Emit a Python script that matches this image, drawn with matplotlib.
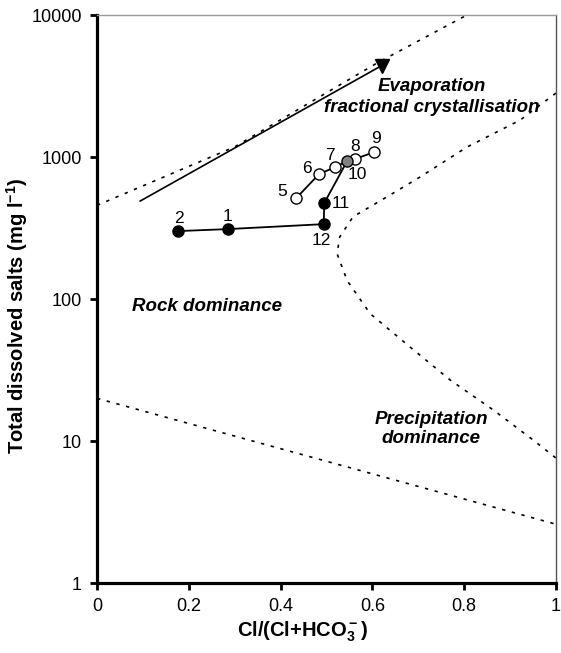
import numpy as np
import matplotlib
matplotlib.use("Agg")
import matplotlib.pyplot as plt

plt.rcParams['font.family'] = ['Liberation Sans', 'DejaVu Sans']
plt.rcParams['mathtext.fontset'] = 'custom'
plt.rcParams['mathtext.bf'] = 'Liberation Sans:bold'
plt.rcParams['mathtext.rm'] = 'Liberation Sans'
plt.rcParams['mathtext.default'] = 'bf'

# samples
labels = ["1", "2", "5", "6", "7", "8", "9", "10", "11", "12"]
cl_ratio = [0.285, 0.176, 0.434, 0.484, 0.519, 0.562, 0.604, 0.545, 0.495, 0.494]
tds = [311, 301, 514, 759, 850, 968, 1084, 937, 474, 337]
fills = ["black", "black", "white", "white", "white", "white", "white", "grey", "black", "black"]

# connecting paths (sample labels)
path_a = ["2", "1", "12", "11", "10", "8", "9"]
path_b = ["5", "6", "7", "10"]

# Gibbs boundaries
upper_x = [0.0, 0.3, 0.61, 0.806]
upper_y = [457, 1180, 4590, 10000]
right_x = [1.0, 0.922, 0.806, 0.704, 0.632, 0.558, 0.529, 0.523, 0.545, 0.595, 0.682, 0.769, 0.863, 0.95, 1.0]
right_y = [2820, 1820, 1175, 724, 525, 380, 275, 209, 135, 79, 46, 27, 16.6, 10.2, 7.6]
lower_x = [0.0, 1.0]
lower_y = [20, 2.6]

# evaporation arrow
arrow_x = [0.094, 0.62]
arrow_y = [490, 4400]

# label offsets in points
offsets = {"1": (0, 9), "2": (1, 9), "5": (-10, 5), "6": (-9, 4), "7": (-4, 8),
           "8": (0, 9), "9": (1, 10), "10": (7, -10), "11": (5, 0), "12": (-2, -12)}

fig = plt.figure(figsize=(5.61, 6.53), dpi=100)
ax = fig.add_axes([0.173, 0.107, 0.818, 0.870])

lookup = dict(zip(labels, zip(cl_ratio, tds)))
for path in (path_a, path_b):
    ax.plot([lookup[p][0] for p in path], [lookup[p][1] for p in path], color="black", lw=1.3, zorder=2)

for lab, x, y, f in zip(labels, cl_ratio, tds, fills):
    ax.plot(x, y, 'o', ms=8, mfc=f, mec="black", mew=1.0, zorder=3)
    ax.annotate(lab, (x, y), xytext=offsets[lab], textcoords="offset points",
                ha="left" if lab == "11" else "center", va="center", fontsize=12.5)

dash = (0, (2, 4))
ax.plot(upper_x, upper_y, color="black", lw=1.2, linestyle=dash)
ax.plot(right_x, right_y, color="black", lw=1.2, linestyle=dash)
ax.plot(lower_x, lower_y, color="black", lw=1.2, linestyle=dash)

ax.plot(arrow_x, arrow_y, color="black", lw=1.2)
ax.plot(arrow_x[-1], arrow_y[-1], 'v', color="black", ms=10)

ax.text(0.73, 2650, "Evaporation\nfractional crystallisation", ha="center", va="center",
        fontsize=13.5, fontweight="bold", style="italic", linespacing=1.25)
ax.text(0.24, 88, "Rock dominance", ha="center", va="center",
        fontsize=13.5, fontweight="bold", style="italic")
ax.text(0.728, 12.2, "Precipitation\ndominance", ha="center", va="center",
        fontsize=13.5, fontweight="bold", style="italic", linespacing=1.2)

ax.set_yscale("log")
ax.set_xlim(0, 1)
ax.set_ylim(1, 10000)
ax.set_xticks([0, 0.2, 0.4, 0.6, 0.8, 1])
ax.set_xticklabels(["0", "0.2", "0.4", "0.6", "0.8", "1"])
ax.set_yticks([1, 10, 100, 1000, 10000])
ax.set_yticklabels(["1", "10", "100", "1000", "10000"])
ax.yaxis.set_minor_locator(matplotlib.ticker.NullLocator())
ax.tick_params(direction="out", length=5, width=2, labelsize=13, pad=6)

for s in ("left", "bottom"):
    ax.spines[s].set_linewidth(2.3)
ax.spines["top"].set_color("#999999")
ax.spines["top"].set_linewidth(1)
ax.spines["right"].set_color("#555555")
ax.spines["right"].set_linewidth(1)

ax.set_xlabel(r"Cl/(Cl+HCO$_3^-$)", fontsize=14.5, fontweight="bold")
ax.set_ylabel(r"Total dissolved salts (mg l$^{-1}$)", fontsize=14.5, fontweight="bold")
ax.xaxis.set_label_coords(0.449, -0.064)
ax.yaxis.set_label_coords(-0.147, 0.47)

plt.savefig("out.png", dpi=100)
